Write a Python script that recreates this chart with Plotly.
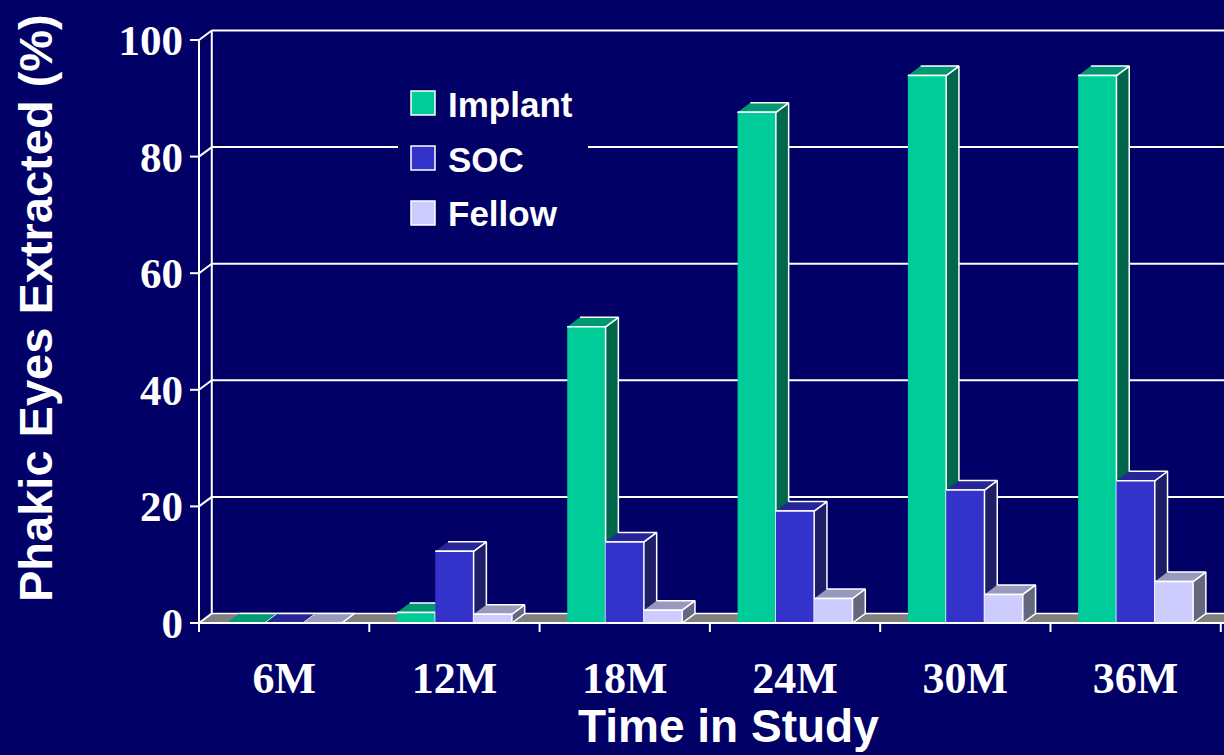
import plotly.graph_objects as go

# ---- data -------------------------------------------------------------
categories = ["6M", "12M", "18M", "24M", "30M", "36M"]
implant = [0, 1.8, 50.8, 87.6, 93.9, 93.9]
soc = [0, 12.3, 13.9, 19.2, 22.8, 24.4]
fellow = [0, 1.5, 2.2, 4.2, 4.9, 7.1]
series_names = ["Implant", "SOC", "Fellow"]
y_ticks = [0, 20, 40, 60, 80, 100]

# ---- style ------------------------------------------------------------
BG = "#000066"
EDGE = "white"
FACE_COLORS = {  # front, top, side
    "Implant": ("#00CC99", "#009973", "#00664C"),
    "SOC": ("#3333CC", "#262699", "#1E1E66"),
    "Fellow": ("#CCCCFF", "#9999BF", "#666680"),
}
FLOOR = "#808080"

# 3-D geometry in axis units
BAR_W = 0.225
DEPTH_X = 0.075
DEPTH_Y = 1.63
TICK_X = 0.053      # length of the value-axis tick marks
TICK_Y = 1.55       # length of the category tick marks
X_MIN, X_MAX = -0.5646, 5.519
Y_MIN, Y_MAX = -2.916, 103.43

W, H = 1224, 755
M_L, M_R, M_T, M_B = 188, 0, 20, 115


def px(x):
    return (x - M_L) / (W - M_L - M_R)


def py(y):
    return (H - M_B - y) / (H - M_T - M_B)


def polys_trace(polys, fill, width=1.5, name=None):
    xs, ys = [], []
    for poly in polys:
        for (a, b) in poly:
            xs.append(a)
            ys.append(b)
        xs.append(None)
        ys.append(None)
    return go.Scatter(x=xs, y=ys, mode="lines", fill="toself",
                      fillcolor=fill, line=dict(color=EDGE, width=width),
                      hoverinfo="skip", showlegend=False, name=name)


def lines_trace(segs, width=2):
    xs, ys = [], []
    for (a, b), (c, d) in segs:
        xs += [a, c, None]
        ys += [b, d, None]
    return go.Scatter(x=xs, y=ys, mode="lines",
                      line=dict(color=EDGE, width=width),
                      hoverinfo="skip", showlegend=False)


fig = go.Figure()

x_left = -0.5
x_right = X_MAX + 0.2

# floor
fig.add_trace(polys_trace([[(x_left, 0), (x_right, 0),
                            (x_right + DEPTH_X, DEPTH_Y),
                            (x_left + DEPTH_X, DEPTH_Y)]], FLOOR))

# back wall: vertical edge and gridlines
wall_segs = [((x_left + DEPTH_X, DEPTH_Y), (x_left + DEPTH_X, 100 + DEPTH_Y))]
for v in y_ticks[1:]:
    wall_segs.append(((x_left + DEPTH_X, v + DEPTH_Y), (x_right, v + DEPTH_Y)))
fig.add_trace(lines_trace(wall_segs, width=2))

# bars, drawn series by series so that each bar hides the side of its left neighbour
values = {"Implant": implant, "SOC": soc, "Fellow": fellow}
for k, name in enumerate(series_names):
    front_c, top_c, side_c = FACE_COLORS[name]
    fronts, tops, sides = [], [], []
    for i, v in enumerate(values[name]):
        x0 = i + (k - 1) * BAR_W - BAR_W / 2
        x1 = x0 + BAR_W
        sides.append([(x1, 0), (x1 + DEPTH_X, DEPTH_Y),
                      (x1 + DEPTH_X, v + DEPTH_Y), (x1, v)])
        tops.append([(x0, v), (x1, v), (x1 + DEPTH_X, v + DEPTH_Y),
                     (x0 + DEPTH_X, v + DEPTH_Y)])
        fronts.append([(x0, 0), (x1, 0), (x1, v), (x0, v)])
    fig.add_trace(polys_trace(sides, side_c, name=name))
    fig.add_trace(polys_trace(tops, top_c, name=name))
    fig.add_trace(polys_trace(fronts, front_c, name=name))

# front axes: value axis, its ticks and the slanted links to the wall
axis_segs = [((x_left, 0), (x_left, 100)), ((x_left - TICK_X, 0), (x_right, 0))]
for v in y_ticks:
    axis_segs.append(((x_left - TICK_X, v), (x_left, v)))
    axis_segs.append(((x_left, v), (x_left + DEPTH_X, v + DEPTH_Y)))
for b in range(len(categories) + 1):
    axis_segs.append(((b - 0.5, 0), (b - 0.5, -TICK_Y)))
fig.add_trace(lines_trace(axis_segs, width=2))

# legend
shapes = [dict(type="rect", xref="paper", yref="paper",
               x0=px(398), x1=px(588), y0=py(240), y1=py(78),
               fillcolor=BG, line=dict(width=0), layer="above")]
annotations = []
for k, name in enumerate(series_names):
    cy = 103 + 55 * k
    shapes.append(dict(type="rect", xref="paper", yref="paper",
                       x0=px(411), x1=px(435), y0=py(cy + 12), y1=py(cy - 12),
                       fillcolor=FACE_COLORS[name][0],
                       line=dict(color=EDGE, width=1.5), layer="above"))
    annotations.append(dict(xref="paper", yref="paper", x=px(446), y=py(cy + 1),
                            xanchor="left", yanchor="middle", showarrow=False,
                            text=f"<b>{name}</b>",
                            font=dict(family="Liberation Sans", size=35, color="white")))

# axis titles
annotations.append(dict(xref="paper", yref="paper", x=px(728), y=py(726),
                        xanchor="center", yanchor="middle", showarrow=False,
                        text="<b>Time in Study</b>",
                        font=dict(family="Liberation Sans", size=46, color="white")))
annotations.append(dict(xref="paper", yref="paper", x=px(35), y=py(308),
                        xanchor="center", yanchor="middle", showarrow=False,
                        textangle=-90, text="<b>Phakic Eyes Extracted (%)</b>",
                        font=dict(family="Liberation Sans", size=47, color="white")))

fig.update_layout(
    width=W, height=H,
    margin=dict(l=M_L, r=M_R, t=M_T, b=M_B),
    paper_bgcolor=BG, plot_bgcolor=BG,
    showlegend=False,
    shapes=shapes, annotations=annotations,
    xaxis=dict(range=[X_MIN, X_MAX], tickmode="array",
               tickvals=list(range(len(categories))), ticktext=categories,
               showgrid=False, zeroline=False, showline=False, ticks="",
               ticklabelstandoff=8,
               tickfont=dict(family="Liberation Serif", size=44, color="white",
                             weight="bold")),
    yaxis=dict(range=[Y_MIN, Y_MAX], tickmode="array", tickvals=y_ticks,
               ticktext=[str(v) for v in y_ticks],
               showgrid=False, zeroline=False, showline=False, ticks="",
               ticklabelstandoff=4,
               tickfont=dict(family="Liberation Serif", size=43, color="white",
                             weight="bold")),
)

fig.write_html("out.html")
